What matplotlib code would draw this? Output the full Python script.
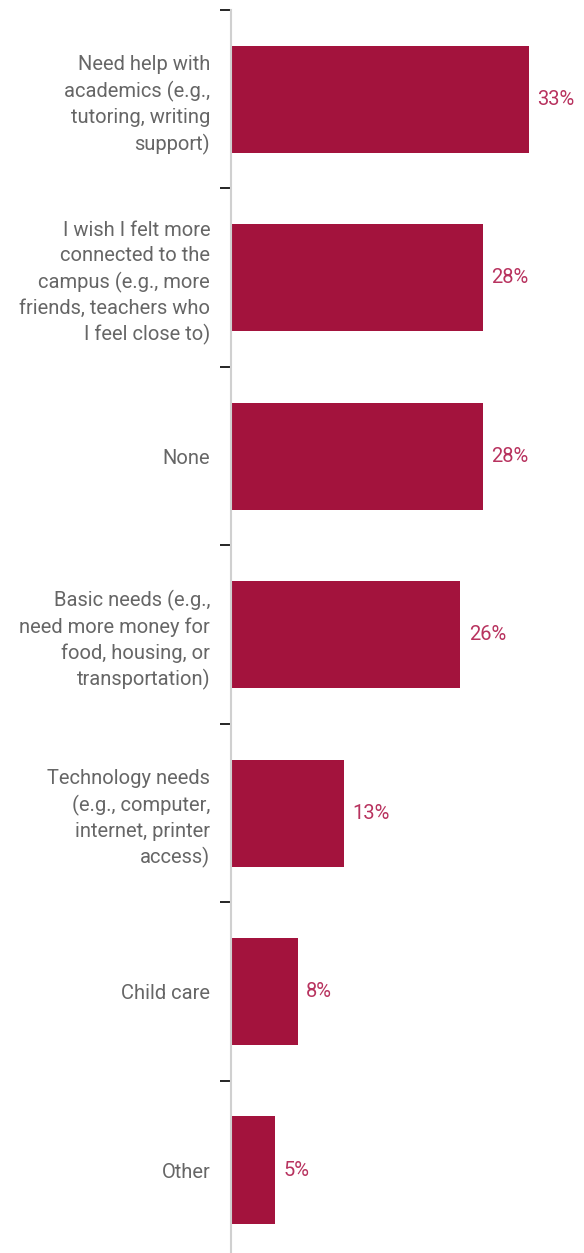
import numpy as np
import matplotlib.pyplot as plt

categories = [
    "Need help with\nacademics (e.g.,\ntutoring, writing\nsupport)",
    "I wish I felt more\nconnected to the\ncampus (e.g., more\nfriends, teachers who\nI feel close to)",
    "None",
    "Basic needs (e.g.,\nneed more money for\nfood, housing, or\ntransportation)",
    "Technology needs\n(e.g., computer,\ninternet, printer\naccess)",
    "Child care",
    "Other",
]
values = [33.0, 27.9, 27.9, 25.4, 12.5, 7.4, 4.9]
labels = ["33%", "28%", "28%", "26%", "13%", "8%", "5%"]

plt.rcParams['font.family'] = ['Roboto', 'DejaVu Sans']

fig = plt.figure(figsize=(5.84, 12.53), dpi=100)
ax = fig.add_axes([0.3955, -0.005, 0.6045, 0.997])

y = np.arange(len(categories))
bars = ax.barh(y, values, height=0.6, color='#A3133D')
ax.bar_label(bars, labels=labels, padding=6, color='#B8335F', fontsize=14.5)

ax.set_ylim(len(categories) - 0.5, -0.5)
ax.set_xlim(0, 39.1)

# tick marks on the band edges, text in the middle
ax.set_yticks(np.arange(-0.5, len(categories) - 0.4, 1.0))
ax.set_yticklabels([])
ax.set_yticks(y, minor=True)
ax.set_yticklabels(categories, minor=True, color='#666666', fontsize=14.5, linespacing=1.4)
ax.tick_params(axis='y', which='major', length=8, width=1.2, color='black', direction='out')
ax.tick_params(axis='y', which='minor', length=0, pad=15)

ax.set_xticks([])
for s in ['top', 'right', 'bottom']:
    ax.spines[s].set_visible(False)
ax.spines['left'].set_color('#d0d0d0')
ax.spines['left'].set_linewidth(1.5)

plt.savefig('out.png', dpi=100)
